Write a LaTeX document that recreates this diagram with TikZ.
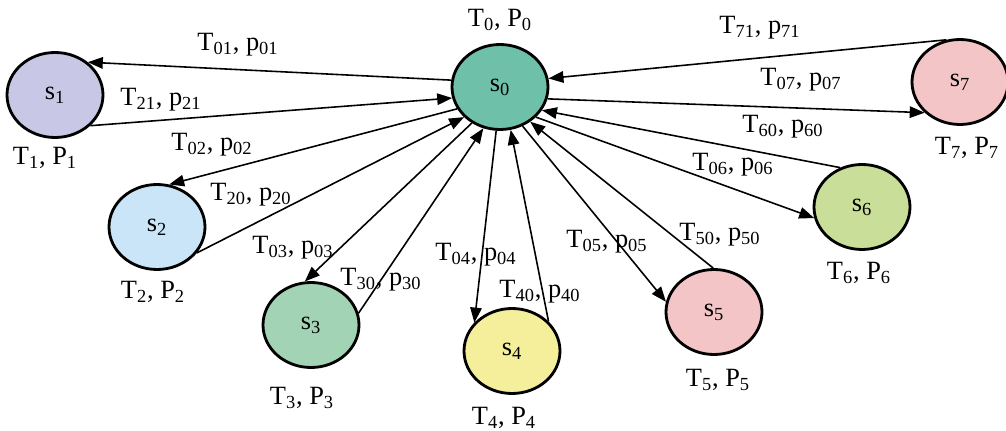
\documentclass[tikz,border=0pt]{standalone}
\usepackage{fontspec}
\setmainfont{Liberation Serif}
\usepackage{tikz}
\usetikzlibrary{arrows.meta,shapes.geometric}

\definecolor{fillzero}{RGB}{110,192,168}
\definecolor{fillone}{RGB}{200,200,230}
\definecolor{filltwo}{RGB}{201,229,247}
\definecolor{fillthree}{RGB}{163,211,181}
\definecolor{fillfour}{RGB}{245,238,154}
\definecolor{fillfive}{RGB}{244,197,199}
\definecolor{fillsix}{RGB}{201,222,152}

\begin{document}
\begin{tikzpicture}[>={Triangle[length=3mm,width=2.3mm]}, font=\fontsize{15}{17}\selectfont]
        \tikzset{state/.style={ellipse, draw, line width=1.6pt, minimum width=1.92cm, minimum height=1.7cm, inner sep=0pt}, trans/.style={->, line width=0.9pt}, tag/.style={inner sep=1pt}}
        \useasboundingbox (0,0) rectangle (20.12,8.60);
        \node[state, fill=fillzero] (s0) at (10.00,6.86) {s\textsubscript{0}};
        \node[state, fill=fillone] (s1) at (1.10,6.70) {s\textsubscript{1}};
        \node[state, fill=filltwo] (s2) at (3.14,4.06) {s\textsubscript{2}};
        \node[state, fill=fillthree] (s3) at (6.22,2.10) {s\textsubscript{3}};
        \node[state, fill=fillfour] (s4) at (10.24,1.58) {s\textsubscript{4}};
        \node[state, fill=fillfive] (s5) at (14.28,2.36) {s\textsubscript{5}};
        \node[state, fill=fillsix] (s6) at (17.24,4.46) {s\textsubscript{6}};
        \node[state, fill=fillfive] (s7) at (19.20,6.96) {s\textsubscript{7}};
        % state labels
        \node[tag] (tp0) at (10.00,8.20) {T\textsubscript{0}, P\textsubscript{0}};
        \node[tag] (tp1) at (0.90,5.44) {T\textsubscript{1}, P\textsubscript{1}};
        \node[tag] (tp2) at (3.06,2.76) {T\textsubscript{2}, P\textsubscript{2}};
        \node[tag] (tp3) at (6.04,0.64) {T\textsubscript{3}, P\textsubscript{3}};
        \node[tag] (tp4) at (10.08,0.24) {T\textsubscript{4}, P\textsubscript{4}};
        \node[tag] (tp5) at (14.36,1.00) {T\textsubscript{5}, P\textsubscript{5}};
        \node[tag] (tp6) at (17.18,3.14) {T\textsubscript{6}, P\textsubscript{6}};
        \node[tag] (tp7) at (19.34,5.64) {T\textsubscript{7}, P\textsubscript{7}};
        % transitions
        \draw[trans] (s0.172) -- (s1.45);
        \draw[trans] (s1.319) -- (s0.193);
        \draw[trans] (s0.207) -- (s2.74);
        \draw[trans] (s2.327) -- (s0.220);
        \draw[trans] (s0.232) -- (s3.98);
        \draw[trans] (s3.14) -- (s0.248);
        \draw[trans] (s0.265) -- (s4.143);
        \draw[trans] (s4.39) -- (s0.284);
        \draw[trans] (s0.300) -- (s5.168);
        \draw[trans] (s5.91) -- (s0.311);
        \draw[trans] (s0.320) -- (s6.193);
        \draw[trans] (s6.119) -- (s0.331);
        \draw[trans] (s0.346) -- (s7.221);
        \draw[trans] (s7.108) -- (s0.10);
        % transition labels
        \node[tag] (l01) at (4.76,7.70) {T\textsubscript{01}, p\textsubscript{01}};
        \node[tag] (l21) at (3.22,6.60) {T\textsubscript{21}, p\textsubscript{21}};
        \node[tag] (l02) at (4.24,5.70) {T\textsubscript{02}, p\textsubscript{02}};
        \node[tag] (l20) at (5.02,4.70) {T\textsubscript{20}, p\textsubscript{20}};
        \node[tag] (l03) at (5.86,3.64) {T\textsubscript{03}, p\textsubscript{03}};
        \node[tag] (l30) at (7.62,3.00) {T\textsubscript{30}, p\textsubscript{30}};
        \node[tag] (l04) at (9.52,3.50) {T\textsubscript{04}, p\textsubscript{04}};
        \node[tag] (l40) at (10.80,2.76) {T\textsubscript{40}, p\textsubscript{40}};
        \node[tag] (l05) at (12.14,3.76) {T\textsubscript{05}, p\textsubscript{05}};
        \node[tag] (l50) at (14.40,3.90) {T\textsubscript{50}, p\textsubscript{50}};
        \node[tag] (l06) at (14.66,5.30) {T\textsubscript{06}, p\textsubscript{06}};
        \node[tag] (l60) at (15.66,6.06) {T\textsubscript{60}, p\textsubscript{60}};
        \node[tag] (l07) at (16.02,7.00) {T\textsubscript{07}, p\textsubscript{07}};
        \node[tag] (l71) at (15.20,8.04) {T\textsubscript{71}, p\textsubscript{71}};
\end{tikzpicture}
\end{document}
